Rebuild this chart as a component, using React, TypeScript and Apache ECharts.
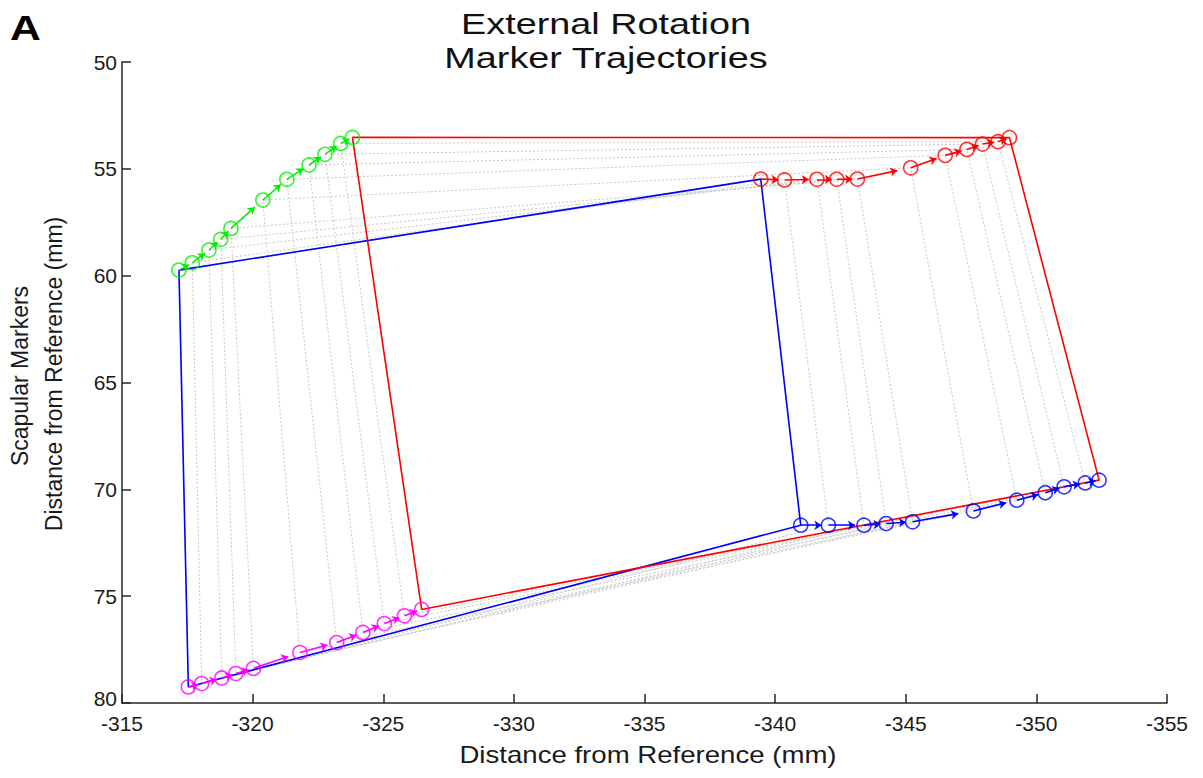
import React, { useEffect, useRef } from "react";
import * as echarts from "echarts";

// Marker trajectories (x = distance from reference, y = distance from reference), mm
const greenX = [-317.18, -317.69, -318.33, -318.78, -319.17, -320.39, -321.31, -322.16, -322.77, -323.37, -323.82];
const greenY = [59.74, 59.40, 58.80, 58.30, 57.79, 56.46, 55.49, 54.82, 54.32, 53.81, 53.53];

const redX = [-339.45, -340.36, -341.60, -342.36, -343.15, -345.19, -346.51, -347.34, -347.94, -348.53, -348.97];
const redY = [55.48, 55.52, 55.49, 55.49, 55.48, 54.95, 54.37, 54.09, 53.84, 53.73, 53.54];

const blueX = [-340.98, -342.04, -343.40, -344.25, -345.26, -347.59, -349.25, -350.34, -351.06, -351.87, -352.40];
const blueY = [71.68, 71.68, 71.68, 71.60, 71.52, 71.01, 70.51, 70.16, 69.88, 69.70, 69.57];

const magentaX = [-317.54, -318.05, -318.82, -319.36, -320.03, -321.81, -323.22, -324.22, -325.04, -325.81, -326.47];
const magentaY = [79.25, 79.09, 78.83, 78.62, 78.38, 77.64, 77.17, 76.70, 76.28, 75.92, 75.62];

const xMin = -355;
const xMax = -315;
const yMin = 50;
const yMax = 80;
const tickStep = 5;

const titleLines = ["External Rotation", "Marker Trajectories"];
const xName = "Distance from Reference (mm)";
const yNameLines = ["Scapular Markers", "Distance from Reference (mm)"];
const panelLabel = "A";

const QUIVER_SCALE = 0.75;

const markers = [
  { name: "green", color: "#00f000", xs: greenX, ys: greenY },
  { name: "red", color: "#ff0000", xs: redX, ys: redY },
  { name: "blue", color: "#0000ff", xs: blueX, ys: blueY },
  { name: "magenta", color: "#ff00ff", xs: magentaX, ys: magentaY },
];

function framePoints(i: number) {
  const g = [greenX[i], greenY[i]];
  const r = [redX[i], redY[i]];
  const b = [blueX[i], blueY[i]];
  const m = [magentaX[i], magentaY[i]];
  return [g, r, b, m, g];
}

const FONT = "'Liberation Sans', Arial, Helvetica, sans-serif";

export default function App() {
  const ref = useRef<HTMLDivElement>(null);

  useEffect(() => {
    if (!ref.current) return;
    const chart = echarts.init(ref.current, undefined, { renderer: "svg" });
    const n = greenX.length;
    const series: any[] = [];

    // gray dotted frames
    for (let i = 0; i < n; i++) {
      series.push({
        type: "line",
        data: framePoints(i),
        showSymbol: false,
        symbol: "none",
        silent: true,
        lineStyle: { color: "#c8c8c8", width: 1, type: [2, 2] },
        z: 1,
      });
    }
    // first frame (blue) and last frame (red)
    series.push({
      type: "line",
      data: framePoints(0),
      symbol: "none",
      lineStyle: { color: "#0000ff", width: 1.6 },
      z: 2,
    });
    series.push({
      type: "line",
      data: framePoints(n - 1),
      symbol: "none",
      lineStyle: { color: "#ff0000", width: 1.6 },
      z: 2,
    });

    // quiver arrows + circles
    markers.forEach((mk) => {
      const arrows = [];
      for (let i = 0; i < n - 1; i++) {
        const x0 = mk.xs[i];
        const y0 = mk.ys[i];
        const x1 = x0 + QUIVER_SCALE * (mk.xs[i + 1] - x0);
        const y1 = y0 + QUIVER_SCALE * (mk.ys[i + 1] - y0);
        arrows.push({ coords: [[x0, y0], [x1, y1]] });
      }
      series.push({
        type: "lines",
        coordinateSystem: "cartesian2d",
        data: arrows,
        symbol: ["none", "arrow"],
        symbolSize: 7,
        lineStyle: { color: mk.color, width: 1.6, opacity: 1, curveness: 0 },
        silent: true,
        z: 3,
      });
      series.push({
        type: "scatter",
        data: mk.xs.map((x, i) => [x, mk.ys[i]]),
        symbol: "circle",
        symbolSize: 14,
        itemStyle: { color: "rgba(0,0,0,0)", borderColor: mk.color, borderWidth: 1.6 },
        z: 4,
      });
    });

    const axisCommon = {
      axisLine: { show: true, onZero: false, lineStyle: { color: "#262626", width: 1.5 } },
      axisTick: { show: true, inside: true, length: 9, lineStyle: { color: "#262626", width: 1.5 } },
      splitLine: { show: false },
    };

    chart.setOption({
      animation: false,
      backgroundColor: "#ffffff",
      grid: { left: 122, right: 36, top: 62, bottom: 75, containLabel: false },
      xAxis: {
        type: "value",
        min: xMin,
        max: xMax,
        interval: tickStep,
        inverse: true,
        ...axisCommon,
        axisLabel: { color: "#1a1a1a", fontSize: 21, fontFamily: FONT, margin: 10 },
      },
      yAxis: {
        type: "value",
        min: yMin,
        max: yMax,
        interval: tickStep,
        inverse: true,
        ...axisCommon,
        axisLabel: {
          color: "#1a1a1a",
          fontSize: 21,
          fontFamily: FONT,
          margin: 5,
          formatter: (v: number) => (v === yMax ? `{last|${v}}` : `${v}`),
          rich: {
            last: { fontSize: 21, fontFamily: FONT, color: "#1a1a1a", padding: [0, 0, 9, 0] },
          },
        },
      },
      graphic: [
        {
          type: "text",
          x: 10,
          y: 28,
          scaleX: 1.22,
          style: {
            text: panelLabel,
            fill: "#000",
            font: `bold 35px ${FONT}`,
            textAlign: "left",
            textVerticalAlign: "middle",
          },
        },
        {
          type: "text",
          x: 606,
          y: 23,
          scaleX: 1.26,
          style: {
            text: titleLines[0],
            fill: "#111",
            font: `30px ${FONT}`,
            textAlign: "center",
            textVerticalAlign: "middle",
          },
        },
        {
          type: "text",
          x: 606,
          y: 57,
          scaleX: 1.26,
          style: {
            text: titleLines[1],
            fill: "#111",
            font: `30px ${FONT}`,
            textAlign: "center",
            textVerticalAlign: "middle",
          },
        },
        {
          type: "text",
          x: 648,
          y: 755,
          scaleX: 1.2,
          style: {
            text: xName,
            fill: "#1a1a1a",
            font: `23px ${FONT}`,
            textAlign: "center",
            textVerticalAlign: "middle",
          },
        },
        {
          type: "text",
          x: 20,
          y: 376,
          rotation: Math.PI / 2,
          style: {
            text: yNameLines[0],
            fill: "#1a1a1a",
            font: `23px ${FONT}`,
            textAlign: "center",
            textVerticalAlign: "middle",
          },
        },
        {
          type: "text",
          x: 54,
          y: 374,
          rotation: Math.PI / 2,
          style: {
            text: yNameLines[1],
            fill: "#1a1a1a",
            font: `23px ${FONT}`,
            textAlign: "center",
            textVerticalAlign: "middle",
          },
        },
      ],
      series,
    });

    return () => chart.dispose();
  }, []);

  return (
    <div
      ref={ref}
      style={{ position: "fixed", left: 0, top: 0, width: 1203, height: 778, background: "#fff" }}
    />
  );
}
